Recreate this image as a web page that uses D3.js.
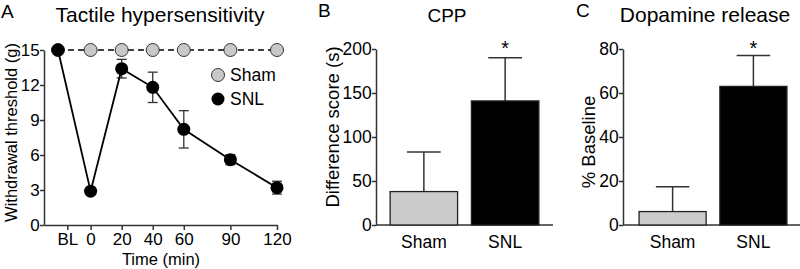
<!DOCTYPE html>
<html>
<head>
<meta charset="utf-8">
<script src="https://cdn.jsdelivr.net/npm/d3@7"></script>
<style>
  body { margin: 0; background: #fff; }
  svg text { font-family: "Liberation Sans", Arial, sans-serif; fill: #000; }
</style>
</head>
<body>
<div id="chart"></div>
<script>
// Panel A data
const timeLabels = ["BL", "0", "20", "40", "60", "90", "120"];
const timeTicks = [-15, 0, 20, 40, 60, 90, 120];
const timePoints = [-21, 0, 20, 40, 60, 90, 120];
const shamThreshold = [15, 15, 15, 15, 15, 15, 15];
const snlThreshold = [15, 2.9, 13.4, 11.8, 8.2, 5.6, 3.2];
const snlSem = [0, 0, 0.8, 1.3, 1.6, 0.43, 0.55];
const thresholdTicks = [0, 3, 6, 9, 12, 15];

// Panels B and C data
const groups = ["Sham", "SNL"];
const cppMean = [38, 141];
const cppSem = [45, 49];
const cppTicks = [0, 50, 100, 150, 200];
const daMean = [6.1, 63];
const daSem = [11.3, 14];
const daTicks = [0, 20, 40, 60, 80];

const groupFill = { "Sham": "#cbcbcb", "SNL": "#000" };
const axisColor = "#333";

const svg = d3.select("#chart").append("svg")
    .attr("width", 800)
    .attr("height", 269);

// ---------- Panel A: line chart ----------
(function () {
    const x = d3.scaleLinear().domain([-30, 120]).range([44, 277]);
    const y = d3.scaleLinear().domain([0, 15]).range([225, 50]);
    const g = svg.append("g");

    const yAxis = g.append("g")
        .attr("transform", `translate(${x(-30)},0)`)
        .call(d3.axisLeft(y).tickValues(thresholdTicks).tickSize(4).tickPadding(2).tickSizeOuter(0));
    const xAxis = g.append("g")
        .attr("transform", `translate(0,${y(0)})`)
        .call(d3.axisBottom(x).tickValues(timeTicks).tickSize(5).tickPadding(2).tickSizeOuter(0)
            .tickFormat((d, i) => timeLabels[i]));
    [xAxis, yAxis].forEach(a => {
        a.select(".domain").attr("stroke", axisColor).attr("stroke-width", 1.5);
        a.selectAll(".tick line").attr("stroke", axisColor).attr("stroke-width", 1.5);
        a.selectAll("text").attr("font-size", 17);
    });
    xAxis.selectAll("text").attr("dy", "0.76em");
    yAxis.selectAll("text").attr("dx", "0.1em");

    const sham = timePoints.map((t, i) => ({ t, v: shamThreshold[i] }));
    const snl = timePoints.map((t, i) => ({ t, v: snlThreshold[i], e: snlSem[i] }));
    const line = d3.line().x(d => x(d.t)).y(d => y(d.v));

    g.append("path").datum(sham)
        .attr("d", line).attr("fill", "none")
        .attr("stroke", "#000").attr("stroke-width", 1.5)
        .attr("stroke-dasharray", "6,4");

    g.selectAll(".sham-pt").data(sham).enter().append("circle")
        .attr("cx", d => x(d.t)).attr("cy", d => y(d.v)).attr("r", 6.5)
        .attr("fill", "#c8c8c8").attr("stroke", "#333").attr("stroke-width", 1);

    // error bars
    const eb = g.selectAll(".err").data(snl.filter(d => d.e > 0)).enter().append("g");
    eb.append("line")
        .attr("x1", d => x(d.t)).attr("x2", d => x(d.t))
        .attr("y1", d => y(d.v + d.e)).attr("y2", d => y(d.v - d.e));
    eb.append("line")
        .attr("x1", d => x(d.t) - 5).attr("x2", d => x(d.t) + 5)
        .attr("y1", d => y(d.v + d.e)).attr("y2", d => y(d.v + d.e));
    eb.append("line")
        .attr("x1", d => x(d.t) - 5).attr("x2", d => x(d.t) + 5)
        .attr("y1", d => y(d.v - d.e)).attr("y2", d => y(d.v - d.e));
    eb.selectAll("line").attr("stroke", "#333").attr("stroke-width", 1.3);

    g.append("path").datum(snl)
        .attr("d", line).attr("fill", "none")
        .attr("stroke", "#000").attr("stroke-width", 1.8);

    g.selectAll(".snl-pt").data(snl).enter().append("circle")
        .attr("cx", d => x(d.t)).attr("cy", d => y(d.v)).attr("r", 6.5)
        .attr("fill", "#000");

    // legend
    const legend = g.append("g").attr("transform", "translate(218,75)");
    groups.forEach((name, i) => {
        legend.append("circle")
            .attr("cx", 0).attr("cy", i * 24).attr("r", 6.5)
            .attr("fill", i === 0 ? "#c8c8c8" : "#000")
            .attr("stroke", i === 0 ? "#333" : "none");
        legend.append("text")
            .attr("x", 12).attr("y", i * 24).attr("dy", "0.36em")
            .attr("font-size", 17.5).text(name);
    });

    g.append("text").attr("x", 160).attr("y", 22).attr("text-anchor", "middle")
        .attr("font-size", 21).text("Tactile hypersensitivity");
    g.append("text").attr("x", 161).attr("y", 265).attr("text-anchor", "middle")
        .attr("font-size", 16.5).text("Time (min)");
    g.append("text")
        .attr("transform", `translate(17,${(y(0) + y(15)) / 2 - 5}) rotate(-90)`)
        .attr("text-anchor", "middle").attr("font-size", 16.5)
        .text("Withdrawal threshold (g)");
    g.append("text").attr("x", 1).attr("y", 18).attr("font-size", 19).text("A");
})();

// ---------- Bar panels ----------
function barPanel(opts) {
    const y = d3.scaleLinear().domain([0, opts.max]).range([225, 49]);
    const x = d3.scaleBand().domain(groups).range(opts.band)
        .paddingInner(0.17).paddingOuter(0.1);
    const g = svg.append("g");

    const yAxis = g.append("g")
        .attr("transform", `translate(${opts.axisX},0)`)
        .call(d3.axisLeft(y).tickValues(opts.ticks).tickSize(4).tickPadding(2).tickSizeOuter(0));
    yAxis.selectAll("text").attr("font-size", 17.5).attr("dx", "0.1em");

    // x baseline
    g.append("line")
        .attr("x1", opts.axisX).attr("x2", opts.axisEnd)
        .attr("y1", y(0)).attr("y2", y(0));

    const data = groups.map((name, i) => ({ name, v: opts.mean[i], e: opts.sem[i] }));

    // error bars (upward only)
    const eb = g.selectAll(".err").data(data).enter().append("g");
    eb.append("line")
        .attr("x1", d => x(d.name) + x.bandwidth() / 2).attr("x2", d => x(d.name) + x.bandwidth() / 2)
        .attr("y1", d => y(d.v)).attr("y2", d => y(d.v + d.e));
    eb.append("line")
        .attr("x1", d => x(d.name) + x.bandwidth() / 4).attr("x2", d => x(d.name) + x.bandwidth() * 3 / 4)
        .attr("y1", d => y(d.v + d.e)).attr("y2", d => y(d.v + d.e));

    g.selectAll(".bar").data(data).enter().append("rect")
        .attr("x", d => x(d.name)).attr("y", d => y(d.v))
        .attr("width", x.bandwidth()).attr("height", d => y(0) - y(d.v))
        .attr("fill", d => groupFill[d.name])
        .attr("stroke", "#222").attr("stroke-width", 1.3);

    g.selectAll("line").attr("stroke", axisColor).attr("stroke-width", 1.5);
    yAxis.select(".domain").attr("stroke", axisColor).attr("stroke-width", 1.5);
    yAxis.selectAll(".tick line").attr("stroke", axisColor).attr("stroke-width", 1.5);

    g.selectAll(".xlab").data(groups).enter().append("text")
        .attr("x", d => x(d) + x.bandwidth() / 2).attr("y", 248)
        .attr("text-anchor", "middle").attr("font-size", 17.5).text(d => d);

    // significance star over SNL
    g.append("text")
        .attr("x", x("SNL") + x.bandwidth() / 2).attr("y", 55)
        .attr("text-anchor", "middle").attr("font-size", 20).text("*");

    g.append("text").attr("x", opts.titleX).attr("y", 22).attr("text-anchor", "middle")
        .attr("font-size", opts.titleSize).text(opts.title);
    g.append("text")
        .attr("transform", `translate(${opts.labelX},${opts.labelY}) rotate(-90)`)
        .attr("text-anchor", "middle").attr("font-size", 18.5).text(opts.yLabel);
    g.append("text").attr("x", opts.letterX).attr("y", 17).attr("font-size", 19).text(opts.letter);
}

barPanel({
    letter: "B", letterX: 318, title: "CPP", titleX: 447, titleSize: 19,
    yLabel: "Difference score (s)", labelX: 339, labelY: 127,
    max: 200, ticks: cppTicks, mean: cppMean, sem: cppSem,
    axisX: 376, axisEnd: 553, band: [382, 547]
});

barPanel({
    letter: "C", letterX: 576, title: "Dopamine release", titleX: 705, titleSize: 21,
    yLabel: "% Baseline", labelX: 595, labelY: 142,
    max: 80, ticks: daTicks, mean: daMean, sem: daSem,
    axisX: 623, axisEnd: 800, band: [631, 795]
});
</script>
</body>
</html>
